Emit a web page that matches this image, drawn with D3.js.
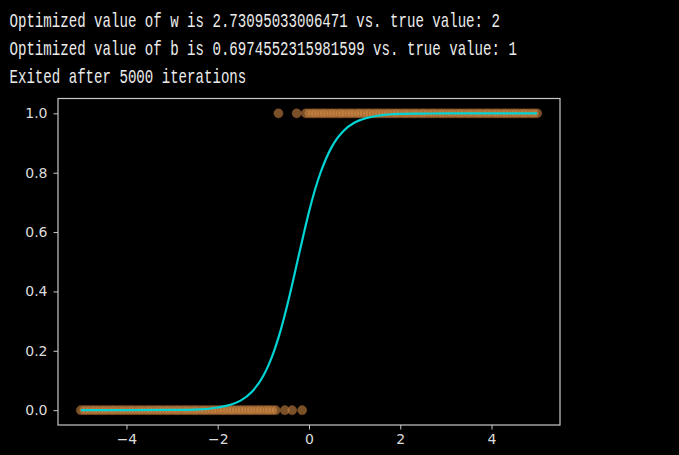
<!DOCTYPE html>
<html>
<head>
<meta charset="utf-8">
<script src="https://cdn.jsdelivr.net/npm/d3@7"></script>
<style>
html,body{margin:0;padding:0;background:#000;}
svg{display:block;}
</style>
</head>
<body>
<svg id="chart" width="679" height="455"></svg>
<script>
// ---- data ----
const headerLines = [
  "Optimized value of w is 2.73095033006471 vs. true value: 2",
  "Optimized value of b is 0.6974552315981599 vs. true value: 1",
  "Exited after 5000 iterations"
];
// samples labelled 0
const xLabel0 = [-5.00,-4.93,-4.87,-4.80,-4.73,-4.67,-4.60,-4.53,-4.47,-4.40,-4.33,-4.27,-4.20,-4.13,-4.07,
  -4.00,-3.93,-3.87,-3.80,-3.73,-3.67,-3.60,-3.53,-3.47,-3.40,-3.33,-3.27,-3.20,-3.13,-3.07,
  -3.00,-2.93,-2.87,-2.80,-2.73,-2.67,-2.60,-2.53,-2.47,-2.40,-2.33,-2.27,-2.20,-2.13,-2.07,
  -2.00,-1.93,-1.87,-1.80,-1.73,-1.67,-1.60,-1.53,-1.47,-1.40,-1.33,-1.27,-1.20,-1.13,-1.07,
  -1.00,-0.93,-0.87,-0.80,-0.73,-0.53,-0.37,-0.15];
// samples labelled 1
const xLabel1 = [-0.67,-0.27,-0.07,
  0.00,0.07,0.13,0.20,0.27,0.33,0.40,0.47,0.53,0.60,0.67,0.73,0.80,0.87,0.93,
  1.00,1.07,1.13,1.20,1.27,1.33,1.40,1.47,1.53,1.60,1.67,1.73,1.80,1.87,1.93,
  2.00,2.07,2.13,2.20,2.27,2.33,2.40,2.47,2.53,2.60,2.67,2.73,2.80,2.87,2.93,
  3.00,3.07,3.13,3.20,3.27,3.33,3.40,3.47,3.53,3.60,3.67,3.73,3.80,3.87,3.93,
  4.00,4.07,4.13,4.20,4.27,4.33,4.40,4.47,4.53,4.60,4.67,4.73,4.80,4.87,4.93,5.00];
// fitted curve
const curveX = [-5,-4,-3,-2.5,-2,-1.75,-1.5,-1.25,-1,-0.875,-0.75,-0.625,-0.5,-0.375,-0.25,-0.125,
  0,0.125,0.25,0.375,0.5,0.625,0.75,1,1.25,1.5,2,2.5,3,4,5];
const curveY = [0.000,0.000,0.001,0.002,0.009,0.017,0.032,0.062,0.116,0.156,0.206,0.267,0.339,0.419,0.504,0.588,
  0.668,0.739,0.799,0.848,0.887,0.917,0.940,0.969,0.984,0.992,0.998,0.999,1.000,1.000,1.000];
const xTicks = [-4,-2,0,2,4];
const yTicks = [0.0,0.2,0.4,0.6,0.8,1.0];

// ---- drawing ----
const svg = d3.select("#chart");
const mLeft = 58, mRight = 560, mTop = 98.5, mBottom = 425;
const x = d3.scaleLinear().domain([-5.5,5.5]).range([mLeft,mRight]);
const y = d3.scaleLinear().domain([-0.05,1.05]).range([mBottom,mTop]);

// header text (narrow, tall console font: monospace stretched vertically)
svg.append("g").selectAll("text").data(headerLines).join("text")
  .attr("transform", (d,i) => `translate(9.5,${27.3 + i*28}) scale(1,1.48)`)
  .attr("fill", "#ececec")
  .style("font-family", "'Liberation Mono','DejaVu Sans Mono',monospace")
  .style("font-size", "14.1px")
  .text(d => d);

// points
const pts = xLabel0.map(v => ({x:v, y:0})).concat(xLabel1.map(v => ({x:v, y:1})));
svg.append("g").selectAll("circle").data(pts).join("circle")
  .attr("cx", d => x(d.x)).attr("cy", d => y(d.y)).attr("r", 4.6)
  .attr("fill", "#d08a45").attr("fill-opacity", 0.58)
  .attr("stroke", "#8a5328").attr("stroke-opacity", 0.5).attr("stroke-width", 0.8);

// curve
const cdata = curveX.map((v,i) => [v, curveY[i]]);
svg.append("path").datum(cdata)
  .attr("fill","none").attr("stroke","#00d4d4").attr("stroke-width",2.2)
  .attr("d", d3.line().x(d => x(d[0])).y(d => y(d[1])).curve(d3.curveMonotoneX));

// axes
const axisColor = "#c8c8c8";
const xAxis = svg.append("g").attr("transform", `translate(0,${mBottom})`)
  .call(d3.axisBottom(x).tickValues(xTicks).tickSize(4.5).tickPadding(5).tickFormat(d => d3.format("")(d).replace("-", "\u2212")));
const yAxis = svg.append("g").attr("transform", `translate(${mLeft},0)`)
  .call(d3.axisLeft(y).tickValues(yTicks).tickSize(4.5).tickPadding(6).tickFormat(d3.format(".1f")));
[xAxis, yAxis].forEach(a => {
  a.select(".domain").remove();
  a.selectAll("line").attr("stroke", axisColor);
  a.selectAll("text").attr("fill", "#dcdcdc")
    .style("font-family", "'DejaVu Sans',sans-serif").style("font-size", "14px");
});
// frame
svg.append("rect").attr("x", mLeft).attr("y", mTop).attr("width", mRight-mLeft).attr("height", mBottom-mTop)
  .attr("fill","none").attr("stroke", axisColor).attr("stroke-width", 1.2);
</script>
</body>
</html>
